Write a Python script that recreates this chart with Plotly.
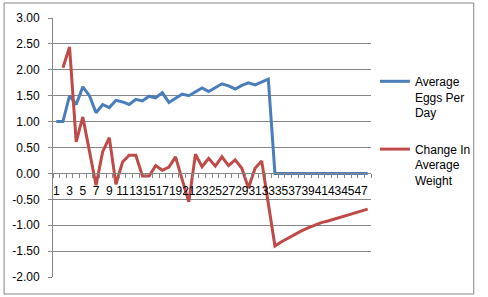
import plotly.graph_objects as go

# ---- data ----
days = list(range(1, 49))
eggs_per_day = [1.00, 1.00, 1.50, 1.33, 1.67, 1.50, 1.17, 1.33, 1.27, 1.41,
                1.38, 1.33, 1.43, 1.40, 1.49, 1.46, 1.56, 1.37, 1.45, 1.53,
                1.50, 1.57, 1.65, 1.58, 1.66, 1.73, 1.69, 1.63, 1.70, 1.75,
                1.71, 1.76, 1.82, 0, 0, 0, 0, 0, 0, 0,
                0, 0, 0, 0, 0, 0, 0, 0]
weight_change = [None, 2.04, 2.44, 0.61, 1.09, 0.43, -0.23, 0.42, 0.69, -0.21,
                 0.22, 0.35, 0.35, -0.05, -0.05, 0.15, 0.06, 0.12, 0.32, -0.12,
                 -0.55, 0.37, 0.13, 0.29, 0.14, 0.32, 0.15, 0.26, 0.10, -0.28,
                 0.10, 0.24, -0.60, -1.40, -1.32, -1.25, -1.17, -1.11, -1.05, -1.00,
                 -0.95, -0.92, -0.88, -0.84, -0.80, -0.76, -0.73, -0.69]
x_tick_vals = list(range(1, 48, 2))
x_tick_text = [str(v) for v in x_tick_vals]
y_tick_vals = [3.0, 2.5, 2.0, 1.5, 1.0, 0.5, 0.0, -0.5, -1.0, -1.5, -2.0]
y_tick_text = ["3.00", "2.50", "2.00", "1.50", "1.00", "0.50", "0.00",
               "-0.50", "-1.00", "-1.50", "-2.00"]
series_names = ["Average<br>Eggs Per<br>Day", "Change In<br>Average<br>Weight"]

W, H = 488, 297
L, R, T, B = 53, 110, 18, 20
PW, PH = W - L - R, H - T - B

def px_x(px):
    return (px - L) / PW

def px_y(py):
    return (H - B - py) / PH

GRID = "#868686"
FONT = "Liberation Sans"

fig = go.Figure()
fig.add_trace(go.Scatter(x=days, y=eggs_per_day, mode="lines", name=series_names[0],
                         legendgroup="a",
                         line=dict(color="#4A7EBB", width=3)))
fig.add_trace(go.Scatter(x=days, y=weight_change, mode="lines", name=series_names[1],
                         legendgroup="b",
                         line=dict(color="#BE4B48", width=3)))

fig.update_layout(
    width=W, height=H,
    margin=dict(l=L, r=R, t=T, b=B, pad=0),
    paper_bgcolor="white", plot_bgcolor="white",
    font=dict(family=FONT, size=12, color="black"),
    showlegend=True,
    legend=dict(x=px_x(382), xanchor="left", y=px_y(67), yanchor="top",
                valign="top", tracegroupgap=18, itemwidth=30,
                font=dict(family=FONT, size=12, color="black"),
                bgcolor="rgba(0,0,0,0)"),
    xaxis=dict(range=[0.5, 48.5], tickmode="array", tickvals=x_tick_vals,
               ticktext=x_tick_text, tickangle=0, ticks="", showgrid=False,
               zeroline=False, showline=True, linecolor=GRID, linewidth=1,
               anchor="free", position=px_y(173.3),
               ticklabelstandoff=6,
               minor=dict(tickmode="array",
                          tickvals=[v + 0.5 for v in range(0, 49)],
                          ticks="outside", ticklen=4, tickcolor=GRID, tickwidth=1,
                          showgrid=False),
               tickfont=dict(family=FONT, size=12, color="black")),
    yaxis=dict(range=[-2, 3], tickmode="array", tickvals=y_tick_vals,
               ticktext=y_tick_text, showgrid=True, gridcolor=GRID, gridwidth=1,
               zeroline=False, showline=True, linecolor=GRID, linewidth=1,
               ticks="outside", ticklen=4, tickcolor=GRID,
               ticklabelstandoff=6,
               tickfont=dict(family=FONT, size=12, color="black")),
    shapes=[dict(type="rect", xref="paper", yref="paper",
                 x0=px_x(3), x1=px_x(483), y0=px_y(294), y1=px_y(3),
                 line=dict(color=GRID, width=1), fillcolor="rgba(0,0,0,0)",
                 layer="below")],
)

fig.write_html("out.html")
